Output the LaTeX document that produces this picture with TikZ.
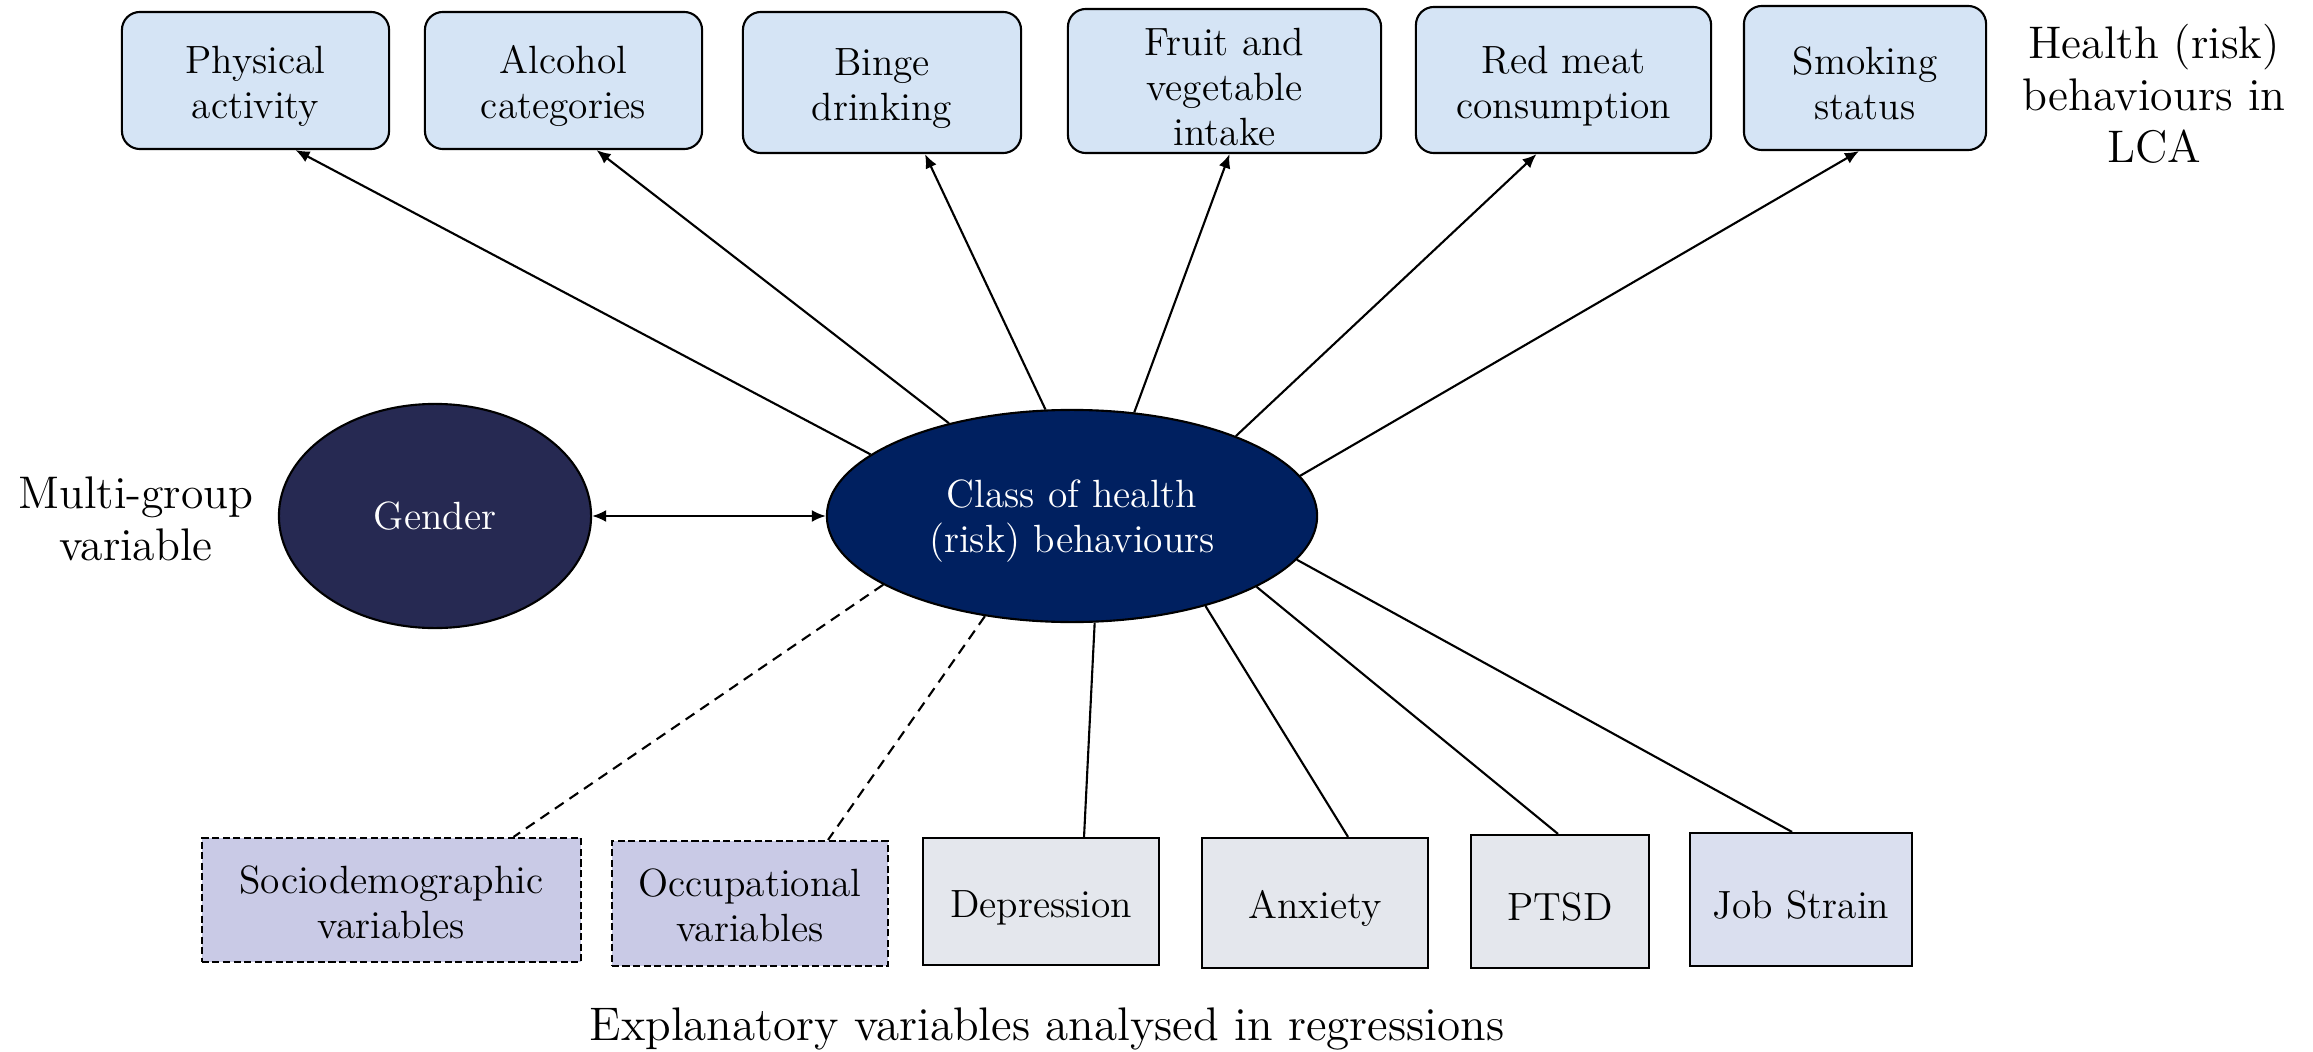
\documentclass[tikz,border=0pt]{standalone}
\usetikzlibrary{arrows.meta,shapes.geometric}

\definecolor{behblue}{HTML}{D5E4F5}
\definecolor{gendernavy}{HTML}{262952}
\definecolor{classnavy}{HTML}{002060}
\definecolor{covlilac}{HTML}{C9CAE6}
\definecolor{mhgrey}{HTML}{E4E7ED}
\definecolor{strainblue}{HTML}{DADFEF}

\tikzset{
  boxtext/.style={font=\fontsize{11.2}{12.8}\selectfont, align=center, inner sep=0pt, line width=0.6pt},
  lift/.style={execute at begin node={\rule{0pt}{#1}}},
  lift/.default=11pt,
  behbox/.style={boxtext, lift, draw, rounded corners=0.18cm, fill=behblue},
  covbox/.style={boxtext, lift=9pt, draw, dash pattern=on 2pt off 1pt, fill=covlilac},
  expbox/.style={boxtext, lift, draw, fill=mhgrey},
  latent/.style={boxtext, draw, ellipse, text=white},
  sidelabel/.style={font=\fontsize{13}{14.8}\selectfont, align=center},
  link/.style={line width=0.6pt},
  arr/.style={link, -{Latex[length=1.4mm,width=1.2mm]}}
}

\begin{document}
\begin{tikzpicture}[x=0.01cm, y=-0.01cm]
    \useasboundingbox (0,0) rectangle (2313,1052);

    % Behaviours in LCA
    \node[behbox, text width=2.67cm, minimum height=1.37cm] (phys) at (255.5,80.5) {Physical\\activity};
    \node[behbox, text width=2.77cm, minimum height=1.37cm] (alc) at (563.5,80.5) {Alcohol\\categories};
    \node[behbox, text width=2.78cm, minimum height=1.41cm] (binge) at (882,82.5) {Binge\\drinking};
    \node[behbox, text width=3.13cm, minimum height=1.44cm] (fruit) at (1224.5,81) {Fruit and\\vegetable\\intake};
    \node[behbox, text width=2.95cm, minimum height=1.46cm] (meat) at (1563.5,80) {Red meat\\consumption};
    \node[behbox, text width=2.42cm, minimum height=1.44cm] (smoke) at (1865,78) {Smoking\\status};
    \node[sidelabel] (lcalab) at (2154,94) {Health (risk)\\behaviours in\\LCA};

    % Latent class and grouping variable
    \node[latent, lift, fill=classnavy, text width=3.1cm, minimum width=4.9cm, minimum height=2.12cm] (cls) at (1072,516) {Class of health\\(risk) behaviours};
    \node[latent, fill=gendernavy, minimum width=3.12cm, minimum height=2.24cm] (gender) at (435,516) {Gender};
    \node[sidelabel] (grouplab) at (136,519) {Multi-group\\variable};

    % Explanatory variables
    \node[covbox, text width=3.79cm, minimum height=1.24cm] (socio) at (391.5,900) {Sociodemographic\\variables};
    \node[covbox, text width=2.76cm, minimum height=1.25cm] (occ) at (750,903.5) {Occupational\\variables};
    \node[expbox, text width=2.36cm, minimum height=1.27cm] (dep) at (1041,901.5) {Depression};
    \node[expbox, text width=2.26cm, minimum height=1.30cm] (anx) at (1315,903) {Anxiety};
    \node[expbox, text width=1.78cm, minimum height=1.33cm] (ptsd) at (1560,901.5) {PTSD};
    \node[expbox, fill=strainblue, text width=2.22cm, minimum height=1.33cm] (strain) at (1801,899.5) {Job Strain};
    \node[sidelabel, font=\fontsize{13.4}{15}\selectfont] (explab) at (1047,1029) {Explanatory variables analysed in regressions};

    % Arrows to behaviours
    \draw[arr] (cls.163.6) -- ([xshift=0.40cm]phys.south);
    \draw[arr] (cls.143.1) -- ([xshift=0.33cm]alc.south);
    \draw[arr] (cls.104.2) -- ([xshift=0.43cm]binge.south);
    \draw[arr] (cls.59.4) -- ([xshift=0.05cm]fruit.south);
    \draw[arr] (cls.26.1) -- ([xshift=-0.27cm]meat.south);
    \draw[arr] (cls.10.2) -- ([xshift=-0.06cm]smoke.south);

    % Gender
    \draw[arr, {Latex[length=1.4mm,width=1.2mm]}-{Latex[length=1.4mm,width=1.2mm]}] (gender.east) -- (cls.west);

    % Lines to explanatory variables
    \draw[link, dash pattern=on 3pt off 2pt] (cls.200.1) -- ([xshift=1.22cm]socio.north);
    \draw[link, dash pattern=on 3pt off 2pt] (cls.229.3) -- ([xshift=0.78cm]occ.north);
    \draw[link] (cls.282.4) -- ([xshift=0.43cm]dep.north);
    \draw[link] (cls.326.8) -- ([xshift=0.33cm]anx.north);
    \draw[link] (cls.339.4) -- ([xshift=-0.02cm]ptsd.north);
    \draw[link] (cls.349.0) -- ([xshift=-0.09cm]strain.north);
\end{tikzpicture}
\end{document}
